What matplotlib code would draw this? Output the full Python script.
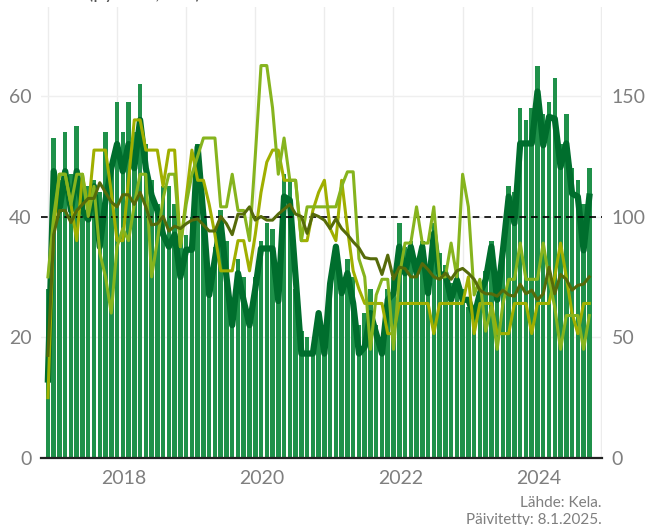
import numpy as np
import matplotlib
matplotlib.use("Agg")
import matplotlib.pyplot as plt

plt.rcParams['font.family'] = ['Lato', 'DejaVu Sans']

# monthly data Jan 2017 - Nov 2024
months = np.arange(95)

# bars (left axis)
bars = [28, 53, 46, 54, 47, 55, 46, 45, 46, 44,
        54, 48, 59, 54, 59, 54, 62, 52, 46, 42,
        45, 45, 42, 38, 37, 40, 52, 40, 31, 35,
        41, 36, 26, 33, 30, 24, 30, 36, 39, 38,
        30, 47, 46, 28, 21, 20, 18, 24, 22, 29,
        35, 28, 33, 30, 22, 24, 28, 22, 20, 28,
        30, 39, 35, 36, 33, 36, 30, 39, 34, 32,
        29, 31, 28, 25, 25, 29, 31, 36, 29, 35,
        45, 44, 58, 56, 58, 65, 57, 59, 63, 52,
        57, 48, 46, 42, 48]

# thick dark line (left axis)
thick = [13, 47.5, 41, 47.5, 41, 47.5, 41, 39.5, 45, 35,
         42.7, 48, 52, 47.5, 52, 48, 56, 48, 43.5, 41,
         37, 35, 37, 30, 34.5, 34.5, 51.5, 40, 27, 33,
         39, 30, 22, 30.6, 26, 22, 28, 34.7, 34.7, 34.7,
         26, 43.3, 42.7, 30, 17.3, 17.3, 17.3, 24, 17.3, 28.9,
         35, 27.3, 30.6, 25.6, 17.3, 18.4, 24, 20.6, 17.3, 26.2,
         27.3, 35, 30.6, 35, 30.6, 35, 27.3, 37.2, 30, 30.6,
         26.2, 29.5, 26.2, 26.2, 23.4, 27.3, 29.5, 35, 26.2, 34.4,
         43.3, 38.9, 52.1, 52.1, 52.1, 60.7, 51.8, 56.5, 56.2, 48.2,
         52.1, 43.8, 43.3, 34.4, 43.3]

# index lines (right axis)
olive = [42.5, 92.5, 102.5, 102.5, 97.5, 102.5, 105, 107.5, 107.5, 114,
         110, 106, 104, 109, 109, 105, 110, 104, 96.5, 97,
         100, 94, 96, 95, 97, 98.5, 99, 96.5, 94, 94,
         100, 97, 92.5, 101, 101, 104, 98.5, 100, 98.5, 98.5,
         101, 103, 105, 101, 100, 93, 101, 100, 98.5, 95,
         99, 95, 92.5, 89.5, 87, 83, 82.5, 82.5, 76, 84,
         74, 79, 78.5, 75, 75, 80.5, 78, 75, 74, 76.5,
         74, 77.5, 78.5, 76.5, 74, 69.5, 68, 68, 67, 69.5,
         67.5, 67, 72, 68, 69.5, 65.5, 68, 79, 68, 76,
         74, 69.5, 71.5, 72, 75]

yellow = [25, 95, 117.5, 117.5, 105, 90, 117.5, 102.5, 127.5, 127.5,
          127.5, 110, 90, 90, 115, 140, 140, 127.5, 127.5, 127.5,
          112.5, 127.5, 127.5, 87.5, 107.5, 127.5, 115, 115, 105, 92.5,
          77.5, 77.5, 77.5, 90, 90, 77.5, 92.5, 110, 122.5, 127.5,
          127.5, 115, 115, 115, 90, 90, 102.5, 110, 115, 95,
          90, 115, 95, 77.5, 70, 64, 64, 64, 64, 51.5,
          51.5, 64, 64, 64, 64, 64, 64, 51.5, 64, 64,
          64, 64, 64, 75, 51.5, 64, 64, 64, 51.5, 51.5,
          51.5, 64, 64, 64, 51.5, 64, 64, 64, 75, 89,
          75, 60, 51.5, 64, 64]

light = [75, 100, 117.5, 117.5, 105, 117.5, 117.5, 100, 112.5, 85,
         75, 60, 87.5, 95, 90, 105, 117.5, 117.5, 75, 90,
         107.5, 117.5, 117.5, 87.5, 105, 117.5, 125, 132.5, 132.5, 132.5,
         104, 104, 117.5, 102.5, 102.5, 90, 125, 162.5, 162.5, 145,
         117.5, 132.5, 115, 115, 90, 104, 104, 104, 104, 104,
         104, 112.5, 118.5, 118.5, 82.5, 75, 45, 67.5, 74, 74,
         45, 75, 89, 89, 104, 89, 89, 104, 75, 75,
         89, 75, 117.5, 104, 67.5, 74, 52.5, 62.5, 45, 64,
         74, 74, 89, 74, 74, 74, 89, 74, 62.5, 45,
         59, 59, 59, 45, 59]

year_starts = np.arange(0, 97, 12)
label_pos = [13.2, 37.2, 61.2, 85.2]
labels = ['2018', '2020', '2022', '2024']

grey = '#7f7f7f'

fig = plt.figure(figsize=(6.66, 5.25), dpi=100)
ax = fig.add_axes([41/666, 1 - 458/525, 561/666, 451/525])
ax2 = ax.twinx()

ax.bar(months, bars, width=0.78, color='#1f914a', zorder=2)
ax.plot(months, thick, color='#006e2d', lw=4.5, zorder=3)

ax2.axhline(100, color='black', lw=1.2, ls=(0, (4, 3)), zorder=1)
ax2.plot(months, yellow, color='#a0af00', lw=2.2, zorder=2)
ax2.plot(months, light, color='#86b41e', lw=2.2, zorder=3)
ax2.plot(months, olive, color='#566b0a', lw=2.2, zorder=4)

ax.set_xlim(-1.2, 96.2)
ax.set_ylim(0, 74.7)
ax2.set_ylim(0, 186.75)

ax.set_yticks([0, 20, 40, 60])
ax2.set_yticks([0, 50, 100, 150])
ax.set_xticks(label_pos)
ax.set_xticklabels(labels)
ax.set_xticks(year_starts, minor=True)

ax.grid(axis='y', color='#efefef', lw=1, zorder=0)
ax.grid(axis='x', which='minor', color='#ececec', lw=1, zorder=0)
ax.set_axisbelow(True)

for a in (ax, ax2):
    for s in ['top', 'left', 'right']:
        a.spines[s].set_visible(False)
    a.spines['bottom'].set_visible(False)
ax.spines['bottom'].set_visible(True)
ax.spines['bottom'].set_color('#222222')
ax.spines['bottom'].set_linewidth(1.6)
ax.spines['bottom'].set_zorder(5)

ax.tick_params(axis='y', length=0, pad=7, labelsize=14, labelcolor=grey)
ax2.tick_params(axis='y', length=0, pad=7, labelsize=14, labelcolor=grey)
ax.tick_params(axis='x', which='both', length=0, pad=9, labelsize=14, labelcolor=grey)

fig.text(88/666, 1 + 1/525, '(pylväät, lkm)', ha='left', va='baseline',
         fontsize=14, color='#555555')
fig.text(602/666, 1 - 507/525, 'Lähde: Kela.', ha='right', va='baseline',
         fontsize=11, color=grey)
fig.text(602/666, 1 - 524/525, 'Päivitetty: 8.1.2025.', ha='right', va='baseline',
         fontsize=11, color=grey)

fig.savefig('out.png', dpi=100)
